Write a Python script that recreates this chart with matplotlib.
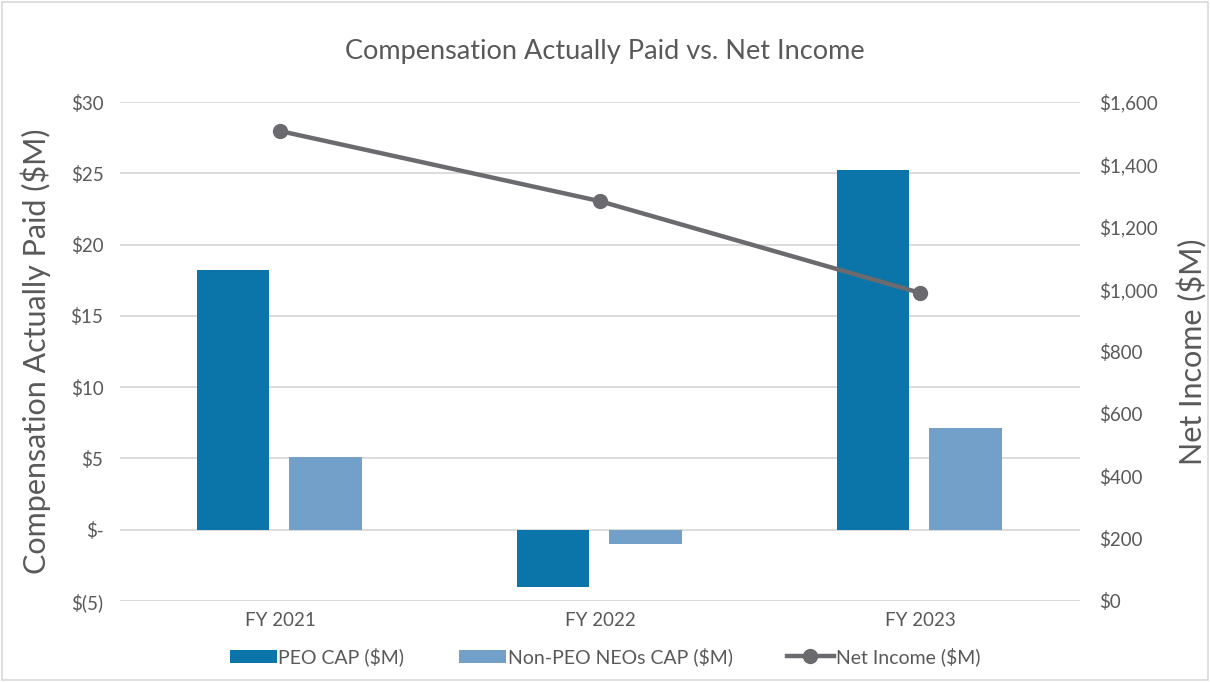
import matplotlib.pyplot as plt
import numpy as np
from matplotlib.ticker import FuncFormatter
from matplotlib.patches import Rectangle

plt.rcParams['font.family'] = ['Lato', 'DejaVu Sans']

years = ['FY 2021', 'FY 2022', 'FY 2023']
peo_cap = [18.2, -4.0, 25.2]
non_peo_cap = [5.1, -1.0, 7.15]
net_income = [1507, 1282, 988]

TXT = '#595959'
GRID = '#d9d9d9'

fig = plt.figure(figsize=(12.1, 6.82), dpi=100)
ax = fig.add_axes([0.0992, 0.1188, 0.7934, 0.7316])
ax2 = ax.twinx()

x = np.arange(len(years))
w = 0.228
ax.bar(x - 0.147, peo_cap, w, color='#0b74a8', label='PEO CAP ($M)', zorder=2)
ax.bar(x + 0.143, non_peo_cap, w, color='#73a0c8', label='Non-PEO NEOs CAP ($M)', zorder=2)
ax2.plot(x, net_income, color='#6b6b6f', lw=3.2, marker='o', ms=10,
         label='Net Income ($M)', zorder=3)

ax.set_xlim(-0.5, 2.5)
ax.set_ylim(-5, 30)
ax.set_yticks(range(-5, 31, 5))
ax2.set_ylim(0, 1600)
ax2.set_yticks(range(0, 1601, 200))


def left_fmt(v, pos):
    if v == 0:
        return '$-'
    if v < 0:
        return f'$({abs(v):.0f})'
    return f'${v:.0f}'


ax.yaxis.set_major_formatter(FuncFormatter(left_fmt))
ax2.yaxis.set_major_formatter(FuncFormatter(lambda v, p: f'${v:,.0f}'))

ax.set_xticks(x)
ax.set_xticklabels(years)
ax.grid(axis='y', color=GRID, lw=1.3, zorder=0)
ax.set_axisbelow(True)

for a in (ax, ax2):
    for s in a.spines.values():
        s.set_visible(False)
    a.tick_params(length=0, labelsize=13.5, colors=TXT)
ax.tick_params(axis='y', pad=12)
ax2.tick_params(axis='y', pad=14)
ax.tick_params(axis='x', pad=8)

ax.set_ylabel('Compensation Actually Paid ($M)', fontsize=22, color=TXT, labelpad=14)
ax2.set_ylabel('Net Income ($M)', fontsize=22, color=TXT, labelpad=14)
fig.text(0.5, 0.925, 'Compensation Actually Paid vs. Net Income', ha='center',
         va='center', fontsize=19.5, color=TXT)

h1, l1 = ax.get_legend_handles_labels()
h2, l2 = ax2.get_legend_handles_labels()
fig.legend(h1 + h2, l1 + l2, loc='center', bbox_to_anchor=(0.5, 0.037), ncol=3,
           frameon=False, fontsize=14, labelcolor=TXT, handlelength=2.4,
           handletextpad=0.1, columnspacing=2.8)

fig.patches.append(Rectangle((0.002, 0.003), 0.996, 0.994, transform=fig.transFigure,
                             fill=False, edgecolor=GRID, lw=1.2))

fig.savefig('out.png', dpi=100)
